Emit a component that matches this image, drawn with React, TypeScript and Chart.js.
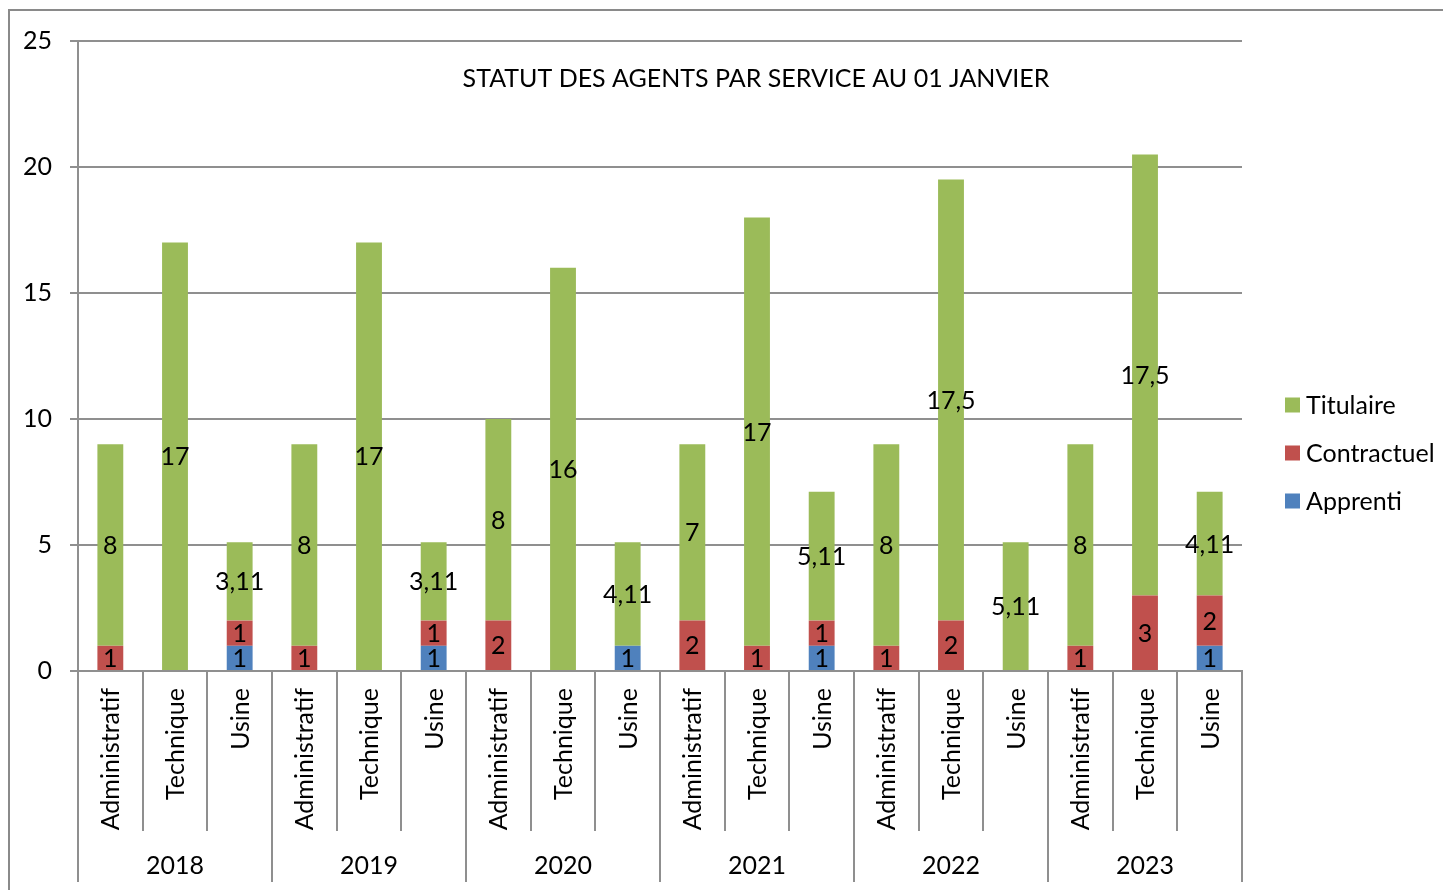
import React, { useEffect, useRef } from "react";
import { Chart, registerables } from "chart.js";

Chart.register(...registerables);

const years = ["2018", "2019", "2020", "2021", "2022", "2023"];
const services = ["Administratif", "Technique", "Usine"];
const categories = years.flatMap((y) => services.map((s) => `${s} ${y}`));

const apprenti = [0, 0, 1, 0, 0, 1, 0, 0, 1, 0, 0, 1, 0, 0, 0, 0, 0, 1];
const contractuel = [1, 0, 1, 1, 0, 1, 2, 0, 0, 2, 1, 1, 1, 2, 0, 1, 3, 2];
const titulaire = [8, 17, 3.11, 8, 17, 3.11, 8, 16, 4.11, 7, 17, 5.11, 8, 17.5, 5.11, 8, 17.5, 4.11];

const title = "STATUT DES AGENTS PAR SERVICE AU 01 JANVIER";
const yTicks = [0, 5, 10, 15, 20, 25];

const FONT = "Lato, 'Liberation Sans', sans-serif";
const FS = 25;
const GRID = "#8f8f8f";

const W = 1443;
const H = 882;

const customPlugin = {
  id: "custom",
  afterDatasetsDraw(chart: any) {
    const ctx = chart.ctx;
    ctx.save();
    ctx.font = `${FS}px ${FONT}`;
    ctx.fillStyle = "#000";
    ctx.textAlign = "center";
    ctx.textBaseline = "middle";
    chart.data.datasets.forEach((ds: any, di: number) => {
      const meta = chart.getDatasetMeta(di);
      meta.data.forEach((el: any, i: number) => {
        const v = ds.data[i];
        if (!v) return;
        const y = (el.y + el.base) / 2;
        ctx.fillText(String(v).replace(".", ","), el.x, y + 1);
      });
    });
    ctx.restore();
  },
  afterDraw(chart: any) {
    const ctx = chart.ctx;
    const area = chart.chartArea;
    const xs = chart.scales.x;
    const n = categories.length;
    const cw = (area.right - area.left) / n;
    ctx.save();
    // outer border
    ctx.strokeStyle = "#8a8a8a";
    ctx.lineWidth = 2;
    ctx.beginPath();
    ctx.moveTo(1, H);
    ctx.lineTo(1, 2);
    ctx.lineTo(W, 2);
    ctx.stroke();

    // separators
    ctx.strokeStyle = GRID;
    ctx.lineWidth = 2;
    for (let i = 0; i <= n; i++) {
      const x = Math.round(area.left + i * cw);
      const len = i % 3 === 0 ? 211 : 160;
      ctx.beginPath();
      ctx.moveTo(x, area.bottom);
      ctx.lineTo(x, area.bottom + len);
      ctx.stroke();
    }

    ctx.fillStyle = "#000";
    ctx.font = `${FS}px ${FONT}`;
    // service labels
    for (let i = 0; i < n; i++) {
      const x = xs.getPixelForValue(i);
      ctx.save();
      ctx.translate(x + 1, area.bottom + 17);
      ctx.rotate(-Math.PI / 2);
      ctx.textAlign = "right";
      ctx.textBaseline = "middle";
      ctx.fillText(services[i % 3], 0, 0);
      ctx.restore();
    }
    // year labels
    ctx.textAlign = "center";
    ctx.textBaseline = "middle";
    years.forEach((y, g) => {
      const x = area.left + (g * 3 + 1.5) * cw;
      ctx.fillText(y, x, area.bottom + 195);
    });

    // title
    ctx.fillText(title, (area.left + area.right) / 2 + 96, 39 + area.top - 1);

    // legend
    const order = [2, 1, 0];
    ctx.textAlign = "left";
    order.forEach((di, k) => {
      const ds = chart.data.datasets[di];
      const cy = 397 + k * 48;
      ctx.fillStyle = ds.backgroundColor;
      ctx.fillRect(1277, cy - 7.5, 15, 15);
      ctx.fillStyle = "#000";
      ctx.fillText(ds.label, 1298, cy + 1);
    });
    ctx.restore();
  },
};

export default function App() {
  const ref = useRef<HTMLCanvasElement | null>(null);
  useEffect(() => {
    if (!ref.current) return;
    const chart = new Chart(ref.current, {
      type: "bar",
      data: {
        labels: categories,
        datasets: [
          { label: "Apprenti", data: apprenti, backgroundColor: "#4F81BD" },
          { label: "Contractuel", data: contractuel, backgroundColor: "#C0504D" },
          { label: "Titulaire", data: titulaire, backgroundColor: "#9BBB59" },
        ],
      },
      options: {
        responsive: false,
        animation: false,
        layout: { padding: { left: 0, top: 32, right: 209, bottom: 0 } },
        datasets: { bar: { barPercentage: 0.4, categoryPercentage: 1 } },
        plugins: {
          legend: { display: false },
          tooltip: { enabled: false },
          title: { display: false },
        },
        scales: {
          x: {
            stacked: true,
            offset: true,
            grid: { display: false },
            border: { display: true, color: GRID, width: 2 },
            ticks: { display: false },
            afterFit: (s: any) => {
              s.height = 219;
            },
          },
          y: {
            stacked: true,
            min: 0,
            max: 25,
            afterBuildTicks: (s: any) => {
              s.ticks = yTicks.map((v) => ({ value: v }));
            },
            grid: { color: GRID, lineWidth: 2, tickLength: 8, drawTicks: true },
            border: { display: true, color: GRID, width: 2 },
            ticks: {
              color: "#000",
              font: { family: FONT, size: FS },
              padding: 18,
            },
            afterFit: (s: any) => {
              s.width = 70;
            },
          },
        },
      },
      plugins: [customPlugin],
    });
    return () => chart.destroy();
  }, []);
  return (
    <div style={{ width: W, height: H }}>
      <canvas ref={ref} width={W} height={H} style={{ display: "block" }} />
    </div>
  );
}
